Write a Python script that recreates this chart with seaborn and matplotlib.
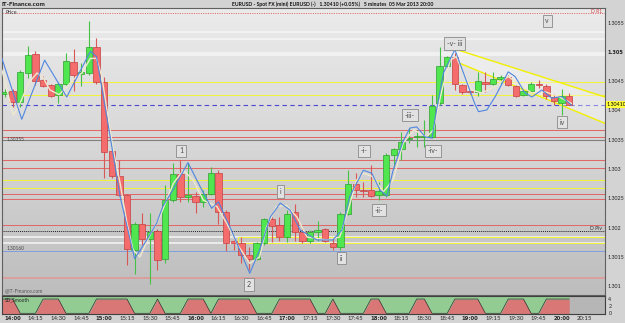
import numpy as np
import pandas as pd
import matplotlib
matplotlib.use("Agg")
import matplotlib.pyplot as plt
from matplotlib.colors import LinearSegmentedColormap
from matplotlib.patches import Rectangle
import seaborn as sns

sns.set_theme(style="white")
FONT = ['Lato', 'DejaVu Sans']
plt.rcParams['font.family'] = FONT

# ---------------- data ----------------
start_time = "2013-03-05 13:55"
opens = [1.30428, 1.30434, 1.30414, 1.30464, 1.30497, 1.30452, 1.30444, 1.30426, 1.30446, 1.30483,
         1.30462, 1.30464, 1.30508, 1.30449, 1.30331, 1.30288, 1.30255, 1.30162, 1.30207, 1.30181,
         1.30194, 1.30146, 1.30248, 1.30291, 1.30252, 1.30254, 1.30244, 1.30258, 1.30293, 1.30226,
         1.30177, 1.30173, 1.30154, 1.30147, 1.30173, 1.30214, 1.30204, 1.30184, 1.30227, 1.30193,
         1.30177, 1.30193, 1.30197, 1.30174, 1.30167, 1.30223, 1.30274, 1.30264, 1.30264, 1.30255,
         1.30255, 1.30324, 1.30335, 1.30351, 1.30354, 1.30355, 1.30355, 1.30412, 1.30476, 1.30491,
         1.30444, 1.30433, 1.30432, 1.30448, 1.30445, 1.30454, 1.30458, 1.30442, 1.30426, 1.30434,
         1.30445, 1.30442, 1.30423, 1.30413, 1.30424]
highs = [1.30436, 1.30437, 1.30469, 1.30510, 1.30502, 1.30459, 1.30445, 1.30449, 1.30499, 1.30505,
         1.30481, 1.30553, 1.30524, 1.30458, 1.30332, 1.30316, 1.30257, 1.30210, 1.30225, 1.30225,
         1.30197, 1.30273, 1.30311, 1.30315, 1.30310, 1.30261, 1.30264, 1.30303, 1.30298, 1.30230,
         1.30182, 1.30184, 1.30167, 1.30175, 1.30217, 1.30218, 1.30218, 1.30230, 1.30240, 1.30201,
         1.30196, 1.30211, 1.30199, 1.30182, 1.30227, 1.30298, 1.30293, 1.30278, 1.30307, 1.30278,
         1.30327, 1.30336, 1.30364, 1.30370, 1.30367, 1.30384, 1.30426, 1.30509, 1.30493, 1.30498,
         1.30446, 1.30434, 1.30466, 1.30466, 1.30465, 1.30461, 1.30461, 1.30444, 1.30434, 1.30449,
         1.30452, 1.30446, 1.30429, 1.30437, 1.30430]
lows = [1.30423, 1.30406, 1.30406, 1.30455, 1.30444, 1.30440, 1.30423, 1.30413, 1.30441, 1.30434,
        1.30442, 1.30461, 1.30445, 1.30284, 1.30285, 1.30254, 1.30136, 1.30121, 1.30170, 1.30104,
        1.30128, 1.30139, 1.30244, 1.30244, 1.30244, 1.30225, 1.30235, 1.30255, 1.30207, 1.30160,
        1.30161, 1.30139, 1.30127, 1.30144, 1.30170, 1.30175, 1.30177, 1.30175, 1.30177, 1.30173,
        1.30174, 1.30178, 1.30175, 1.30161, 1.30162, 1.30221, 1.30252, 1.30253, 1.30252, 1.30247,
        1.30252, 1.30304, 1.30315, 1.30344, 1.30338, 1.30338, 1.30353, 1.30409, 1.30474, 1.30435,
        1.30429, 1.30429, 1.30425, 1.30432, 1.30444, 1.30446, 1.30442, 1.30423, 1.30424, 1.30432,
        1.30438, 1.30419, 1.30409, 1.30392, 1.30409]
closes = [1.30432, 1.30414, 1.30465, 1.30495, 1.30451, 1.30442, 1.30425, 1.30446, 1.30485, 1.30461,
          1.30466, 1.30508, 1.30449, 1.30329, 1.30288, 1.30255, 1.30164, 1.30207, 1.30180, 1.30193,
          1.30144, 1.30248, 1.30291, 1.30252, 1.30255, 1.30244, 1.30258, 1.30294, 1.30226, 1.30174,
          1.30174, 1.30153, 1.30147, 1.30173, 1.30214, 1.30202, 1.30184, 1.30223, 1.30193, 1.30177,
          1.30193, 1.30196, 1.30177, 1.30167, 1.30224, 1.30275, 1.30264, 1.30262, 1.30254, 1.30262,
          1.30324, 1.30334, 1.30347, 1.30353, 1.30355, 1.30356, 1.30408, 1.30476, 1.30491, 1.30445,
          1.30431, 1.30432, 1.30450, 1.30445, 1.30454, 1.30457, 1.30444, 1.30425, 1.30433, 1.30446,
          1.30444, 1.30424, 1.30416, 1.30425, 1.30410]

# SD_Smooth indicator (0..4)
sd_smooth = [4, 4, 0, 0, 0, 4, 4, 4, 0, 0, 0, 0, 4,
             4, 4, 4, 4, 0, 0, 0, 4, 0, 0, 0, 4,
             4, 4, 0, 4, 4, 4, 4, 4, 0, 0, 0, 4,
             4, 4, 4, 4, 0, 0, 4, 0, 0, 0, 0, 4,
             4, 0, 0, 0, 0, 4, 4, 0, 0, 0, 4, 4,
             4, 4, 0, 0, 0, 4, 4, 4, 0, 0, 4, 4, 4, 4]

# fast (blue) average, read at its turning points (bar index, price)
blue_x = [-0.4, 2.2, 5.2, 8.1, 11.2, 12.0, 13.8, 15.1, 17.0, 18.6, 19.9, 20.7, 22.0, 24.0, 25.6, 27.1,
          28.0, 29.5, 32.1, 33.4, 34.8, 36.1, 37.4, 38.7, 40.9, 43.0, 44.2, 45.2, 47.0, 48.1, 49.2,
          50.1, 50.9, 52.2, 53.1, 54.0, 55.1, 56.0, 56.6, 57.5, 59.0, 60.3, 61.6, 62.1, 63.2, 64.3,
          66.0, 66.9, 68.2, 69.1, 70.4, 71.7, 73.0, 74.3]
blue_y = [1.30489, 1.30385, 1.30486, 1.30423, 1.30501, 1.30492, 1.30355, 1.30253, 1.30147, 1.30179,
          1.30208, 1.30236, 1.30264, 1.30311, 1.30270, 1.30233, 1.30244, 1.30201, 1.30122, 1.30162,
          1.30218, 1.30242, 1.30230, 1.30196, 1.30179, 1.30179, 1.30196, 1.30253, 1.30298, 1.30293,
          1.30264, 1.30254, 1.30298, 1.30347, 1.30370, 1.30372, 1.30355, 1.30353, 1.30401, 1.30464,
          1.30504, 1.30458, 1.30412, 1.30398, 1.30401, 1.30424, 1.30466, 1.30458, 1.30430, 1.30423,
          1.30435, 1.30421, 1.30424, 1.30409]
# slow (cream) average
cream_x = [-0.4, 1.1, 2.0, 3.1, 4.2, 5.0, 5.9, 7.1, 8.1, 9.4, 10.1, 11.2, 12.0, 12.7, 13.3, 14.2,
           15.1, 16.0, 16.8, 17.7, 19.0, 20.3, 22.1, 23.4, 24.7, 26.0, 27.8, 29.1, 30.4, 32.1, 33.4,
           34.3, 35.6, 36.9, 38.3, 39.6, 42.2, 43.9, 45.0, 46.1, 47.0, 48.3, 49.6, 50.9, 52.2, 53.6,
           55.3, 56.2, 57.3, 58.4, 59.2, 59.9, 61.2, 62.5, 64.3, 66.0, 67.8, 69.1, 70.8, 72.6, 74.3]
cream_y = [1.30469, 1.30392, 1.30413, 1.30447, 1.30464, 1.30456, 1.30435, 1.30427, 1.30441, 1.30458,
           1.30464, 1.30489, 1.30489, 1.30458, 1.30407, 1.30333, 1.30276, 1.30208, 1.30162, 1.30150,
           1.30187, 1.30218, 1.30276, 1.30298, 1.30281, 1.30247, 1.30236, 1.30207, 1.30173, 1.30139,
           1.30150, 1.30201, 1.30236, 1.30238, 1.30218, 1.30184, 1.30179, 1.30184, 1.30230, 1.30281,
           1.30293, 1.30287, 1.30261, 1.30281, 1.30344, 1.30367, 1.30355, 1.30367, 1.30435, 1.30486,
           1.30492, 1.30469, 1.30435, 1.30430, 1.30441, 1.30458, 1.30441, 1.30430, 1.30432, 1.30424,
           1.30412]

price_ticks = [1.3055, 1.305, 1.3045, 1.304, 1.3035, 1.303, 1.3025, 1.302, 1.3015, 1.301]
price_tick_labels = ["1.3055", "1.305", "1.3045", "1.304", "1.3035", "1.303", "1.3025", "1.302", "1.3015", "1.301"]

last_price = 1.30410
r1_level = 1.30566
pivot_level = 1.30195
white_levels = [1.30534, 1.30522, 1.30498, 1.30494, 1.30184, 1.30173]
yellow_levels = [1.30449, 1.30426, 1.30282, 1.30268, 1.30184, 1.30173]
yellow_starts = [8, 1, 0, 0, 31, 31]
red_levels = [1.30366, 1.30355, 1.30315, 1.30301, 1.30258, 1.30249, 1.30205]
grey_level = 1.30350
blue_level = 1.30160
pink_level = 1.30114

wave_labels = ["1", "2", "i", "ii", "-i-", "-ii-", "-iii-", "-iv-", "-v- iii", "iv", "v"]
wave_x = [23.1, 32.0, 36.1, 44.1, 47.1, 49.05, 53.1, 56.1, 59.0, 73.05, 71.1]
wave_y = [1.30331, 1.30103, 1.30262, 1.30148, 1.30331, 1.30230, 1.30392, 1.30331, 1.30514, 1.30380, 1.30553]

tri_x = [59.0, 78.7, 78.7, 59.2]
tri_y = [1.30505, 1.30423, 1.30378, 1.30483]

# ---------------- figure ----------------
W, H = 625, 323
fig = plt.figure(figsize=(W / 100, H / 100), dpi=100)
fig.patch.set_facecolor('#d3d3d3')

L, R = 2 / W, 605 / W
ax = fig.add_axes([L, 1 - 295 / H, R - L, (295 - 8) / H])
axi = fig.add_axes([L, 1 - 314 / H, R - L, (314 - 296) / H])

n = len(opens)
idx = np.arange(n)
XMIN, XMAX = -0.39, 78.69
YMIN, YMAX = 1.30085, 1.30575

# background gradient
cmap = LinearSegmentedColormap.from_list('bg', ['#bdbdbd', '#d6d6d6', '#ebebeb'])
ax.imshow(np.linspace(0, 1, 256).reshape(-1, 1), extent=[0, 1, 0, 1], transform=ax.transAxes,
          cmap=cmap, aspect='auto', origin='lower', zorder=0)

lw1 = 0.75
for lv in white_levels:
    ax.axhline(lv, color='#f6f6f6', lw=1.1, zorder=1)
for lv, st in zip(yellow_levels, yellow_starts):
    ax.hlines(lv, st - 0.4, XMAX, color='#f2f23a', lw=lw1, zorder=1.2)
ax.vlines(31 - 0.4, yellow_levels[5], yellow_levels[4], color='#f2f23a', lw=lw1, zorder=1.2)
for lv in red_levels:
    ax.axhline(lv, color='#e06868', lw=lw1, zorder=1.1)
ax.axhline(grey_level, color='#808080', lw=0.8, zorder=1.1)
ax.axhline(pivot_level, color='#222222', lw=0.7, ls=(0, (1, 1)), zorder=1.3)
ax.axhline(blue_level, color='#7d9ee0', lw=0.7, zorder=1.1)
ax.axhline(pink_level, color='#e09a9a', lw=1.3, zorder=1.1)
ax.axhline(r1_level, color='#e07070', lw=0.7, ls=(0, (1.2, 1.2)), zorder=1.1)
ax.axhline(last_price, color='#4a4ad0', lw=0.8, ls=(0, (4, 3)), zorder=1.3)

# triangle
ax.fill(tri_x, tri_y, color='white', alpha=0.35, lw=0, zorder=1.4)
ax.plot(tri_x[:2], tri_y[:2], color='#f2f000', lw=1.0, zorder=2.5)
ax.plot([tri_x[3], tri_x[2]], [tri_y[3], tri_y[2]], color='#f2f000', lw=1.0, zorder=2.5)

# candles
for i, (o, h, l, c) in enumerate(zip(opens, highs, lows, closes)):
    up = c >= o
    wick = '#46c046' if up else '#d85858'
    fc = '#4fe64f' if up else '#f46c6c'
    ec = '#2f9e2f' if up else '#c44040'
    ax.vlines(i, l, h, color=wick, lw=0.8, zorder=3)
    b = min(o, c)
    hgt = max(abs(c - o), 0.00002)
    ax.add_patch(Rectangle((i - 0.42, b), 0.84, hgt, fc=fc, ec=ec, lw=0.5, zorder=4))

# averages
sns.lineplot(x=cream_x, y=cream_y, ax=ax, color='#efe9cf', lw=1.0, estimator=None, sort=False, zorder=5)
sns.lineplot(x=blue_x, y=blue_y, ax=ax, color='#4f86e0', lw=0.8, estimator=None, sort=False, zorder=6)

# wave labels
for t, x, y in zip(wave_labels, wave_x, wave_y):
    ax.text(x, y, t, fontsize=5.0, color='#505050', ha='center', va='center', zorder=8,
            bbox=dict(boxstyle='square,pad=0.4', fc='#e2e2e2', ec='#8a8a8a', lw=0.6))

ax.set_xlim(XMIN, XMAX)
ax.set_ylim(YMIN, YMAX)
ax.set_xticks([])
ax.yaxis.tick_right()
ax.set_yticks(price_ticks)
ax.set_yticklabels(price_tick_labels, fontsize=3.9, color='#222222')
ax.tick_params(axis='y', length=0, pad=1.8)
for lab in ax.get_yticklabels():
    if lab.get_text() == "1.305":
        lab.set_fontfamily('DejaVu Sans')
        lab.set_fontweight('bold')
        lab.set_fontsize(3.6)
for s in ax.spines.values():
    s.set_color('#606060')
    s.set_linewidth(0.8)

# small texts in the main panel
ax.text(0.005, 0.992, "Price", transform=ax.transAxes, fontsize=3.8, color='#333', va='top', ha='left', zorder=9)
ax.text(0.995, 0.995, "D R1", transform=ax.transAxes, fontsize=3.6, color='#d04040', va='top', ha='right', zorder=9)
ax.text(0.995, pivot_level, "D Piv", transform=ax.get_yaxis_transform(), fontsize=3.6, color='#333',
        va='bottom', ha='right', zorder=9)
ax.text(0.008, 1.30355, "1.30355", transform=ax.get_yaxis_transform(), fontsize=3.4, color='#444',
        va='top', ha='left', zorder=9)
ax.text(0.008, blue_level, "1.30160", transform=ax.get_yaxis_transform(), fontsize=3.4, color='#444',
        va='bottom', ha='left', zorder=9)
ax.text(0.005, 0.005, "@IT-Finance.com", transform=ax.transAxes, fontsize=3.6, color='#555',
        va='bottom', ha='left', zorder=9)
ax.annotate(f"{last_price:.5f}", xy=(1.0, last_price), xycoords=ax.get_yaxis_transform(),
            xytext=(1.0, 0), textcoords='offset points', fontsize=3.9, color='black', va='center',
            ha='left', bbox=dict(boxstyle='square,pad=0.15', fc='#ffff3c', ec='none'), annotation_clip=False,
            zorder=10)

# indicator panel
vals = np.array(sd_smooth, dtype=float)
xs = np.r_[XMIN, idx]
vs = np.r_[vals[0], vals]
axi.set_facecolor('#b6b6b6')
axi.fill_between(xs, -1, vs, color='#d97676', lw=0)
axi.fill_between(xs, vs, 6, color='#93cc93', lw=0)
axi.plot(xs, vs, color='#303030', lw=0.5)
axi.set_xlim(XMIN, XMAX)
axi.set_ylim(-0.2, 4.85)
axi.yaxis.tick_right()
axi.set_yticks([0, 2, 4])
axi.set_yticklabels(["0", "2", "4"], fontsize=3.8)
axi.tick_params(axis='y', length=0, pad=2.5)
times = pd.date_range(start_time, periods=n + 3, freq='5min')
tick_pos = list(range(1, n + 3, 3))
axi.set_xticks(tick_pos)
labels = [times[p].strftime('%H:%M') for p in tick_pos]
axi.set_xticklabels(labels, fontsize=4.3)
for lab, p in zip(axi.get_xticklabels(), tick_pos):
    if times[p].minute == 0:
        lab.set_fontfamily('DejaVu Sans')
        lab.set_fontweight('bold')
        lab.set_fontsize(3.8)
axi.tick_params(axis='x', length=0, pad=1.5)
axi.text(0.004, 0.93, "SD_Smooth", transform=axi.transAxes, fontsize=3.4, color='#222', va='top', ha='left')
for s in axi.spines.values():
    s.set_color('#404040')
    s.set_linewidth(0.8)

# header
fig.text(2 / W, 1 - 4.5 / H, "IT-Finance.com", fontsize=4.6, fontweight='bold', color='#111', va='center', ha='left')
fig.text(232 / W, 1 - 4.5 / H,
         "EURUSD - Spot FX (mini) EURUSD (-)   1.30410 (+0.05%)   5 minutes  05 Mar 2013 20:00",
         fontsize=3.7, fontweight='bold', color='#111', va='center', ha='left')

fig.savefig("out.png", dpi=100, facecolor=fig.get_facecolor())
